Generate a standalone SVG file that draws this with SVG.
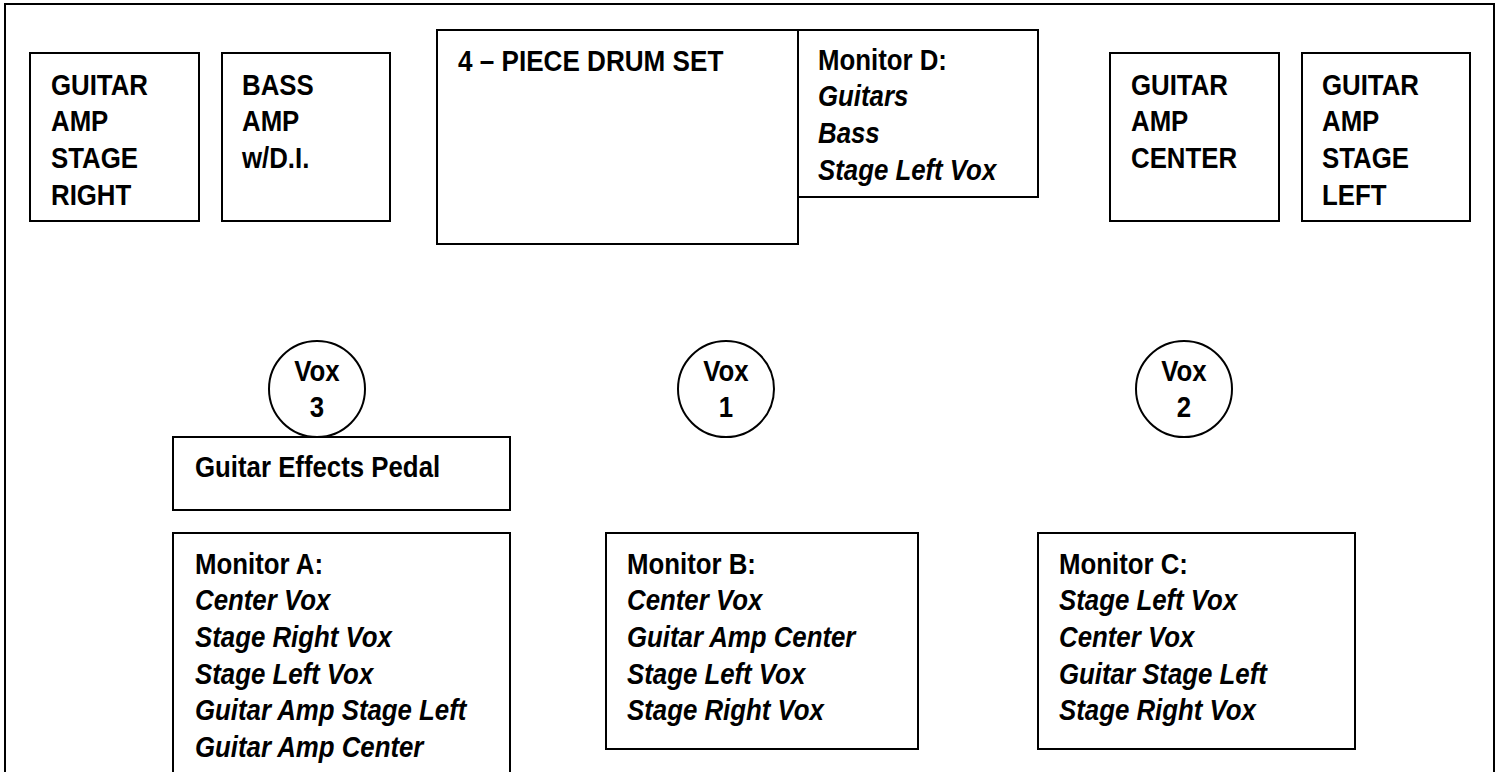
<svg xmlns="http://www.w3.org/2000/svg" width="1501" height="772" viewBox="0 0 1501 772">
<style>
.box{fill:#fff;stroke:#000;stroke-width:2}
.t{font-family:"Liberation Sans",Arial,sans-serif;font-size:29px;font-weight:bold;fill:#000}
.i{font-style:italic}
.c{text-anchor:middle}
</style>
<rect width="1501" height="772" fill="#fff"/>
<rect x="5" y="4" width="1489" height="790" fill="none" stroke="#000" stroke-width="2"/>
<g id="connectors"/>
<g id="amp-stage-right">
<rect class="box" x="30" y="53" width="169" height="168"/>
<text class="t" transform="translate(51,94.5) scale(0.89,1)"><tspan x="0">GUITAR</tspan><tspan x="0" dy="36.7">AMP</tspan><tspan x="0" dy="36.7">STAGE</tspan><tspan x="0" dy="36.7">RIGHT</tspan></text>
</g>
<g id="bass-amp">
<rect class="box" x="222" y="53" width="168" height="168"/>
<text class="t" transform="translate(242,94.5) scale(0.89,1)"><tspan x="0">BASS</tspan><tspan x="0" dy="36.7">AMP</tspan><tspan x="0" dy="36.7">w/D.I.</tspan></text>
</g>
<g id="drum-set">
<rect class="box" x="437" y="30" width="361" height="214"/>
<text class="t" transform="translate(458,70.5) scale(0.9,1)">4 – PIECE DRUM SET</text>
</g>
<g id="monitor-d">
<rect class="box" x="798" y="30" width="240" height="167"/>
<text class="t" transform="translate(818,69.5) scale(0.89,1)"><tspan x="0">Monitor D:</tspan><tspan class="i" x="0" dy="36.7">Guitars</tspan><tspan class="i" x="0" dy="36.7">Bass</tspan><tspan class="i" x="0" dy="36.7">Stage Left Vox</tspan></text>
</g>
<g id="amp-center">
<rect class="box" x="1110" y="53" width="169" height="168"/>
<text class="t" transform="translate(1131,94.5) scale(0.89,1)"><tspan x="0">GUITAR</tspan><tspan x="0" dy="36.7">AMP</tspan><tspan x="0" dy="36.7">CENTER</tspan></text>
</g>
<g id="amp-stage-left">
<rect class="box" x="1302" y="53" width="168" height="168"/>
<text class="t" transform="translate(1322,94.5) scale(0.89,1)"><tspan x="0">GUITAR</tspan><tspan x="0" dy="36.7">AMP</tspan><tspan x="0" dy="36.7">STAGE</tspan><tspan x="0" dy="36.7">LEFT</tspan></text>
</g>
<g id="vox-3">
<circle class="box" cx="317" cy="389" r="48"/>
<text class="t c" transform="translate(317,381) scale(0.89,1)"><tspan x="0">Vox</tspan><tspan x="0" dy="36">3</tspan></text>
</g>
<g id="vox-1">
<circle class="box" cx="726" cy="389" r="48"/>
<text class="t c" transform="translate(726,381) scale(0.89,1)"><tspan x="0">Vox</tspan><tspan x="0" dy="36">1</tspan></text>
</g>
<g id="vox-2">
<circle class="box" cx="1184" cy="389" r="48"/>
<text class="t c" transform="translate(1184,381) scale(0.89,1)"><tspan x="0">Vox</tspan><tspan x="0" dy="36">2</tspan></text>
</g>
<g id="effects-pedal">
<rect class="box" x="173" y="437" width="337" height="73"/>
<text class="t" transform="translate(195,477) scale(0.89,1)">Guitar Effects Pedal</text>
</g>
<g id="monitor-a">
<rect class="box" x="173" y="533" width="337" height="260"/>
<text class="t" transform="translate(195,573.5) scale(0.89,1)"><tspan x="0">Monitor A:</tspan><tspan class="i" x="0" dy="36.7">Center Vox</tspan><tspan class="i" x="0" dy="36.7">Stage Right Vox</tspan><tspan class="i" x="0" dy="36.7">Stage Left Vox</tspan><tspan class="i" x="0" dy="36.7">Guitar Amp Stage Left</tspan><tspan class="i" x="0" dy="36.7">Guitar Amp Center</tspan></text>
</g>
<g id="monitor-b">
<rect class="box" x="606" y="533" width="312" height="216"/>
<text class="t" transform="translate(627,573.5) scale(0.89,1)"><tspan x="0">Monitor B:</tspan><tspan class="i" x="0" dy="36.7">Center Vox</tspan><tspan class="i" x="0" dy="36.7">Guitar Amp Center</tspan><tspan class="i" x="0" dy="36.7">Stage Left Vox</tspan><tspan class="i" x="0" dy="36.7">Stage Right Vox</tspan></text>
</g>
<g id="monitor-c">
<rect class="box" x="1038" y="533" width="317" height="216"/>
<text class="t" transform="translate(1059,573.5) scale(0.89,1)"><tspan x="0">Monitor C:</tspan><tspan class="i" x="0" dy="36.7">Stage Left Vox</tspan><tspan class="i" x="0" dy="36.7">Center Vox</tspan><tspan class="i" x="0" dy="36.7">Guitar Stage Left</tspan><tspan class="i" x="0" dy="36.7">Stage Right Vox</tspan></text>
</g>
</svg>
